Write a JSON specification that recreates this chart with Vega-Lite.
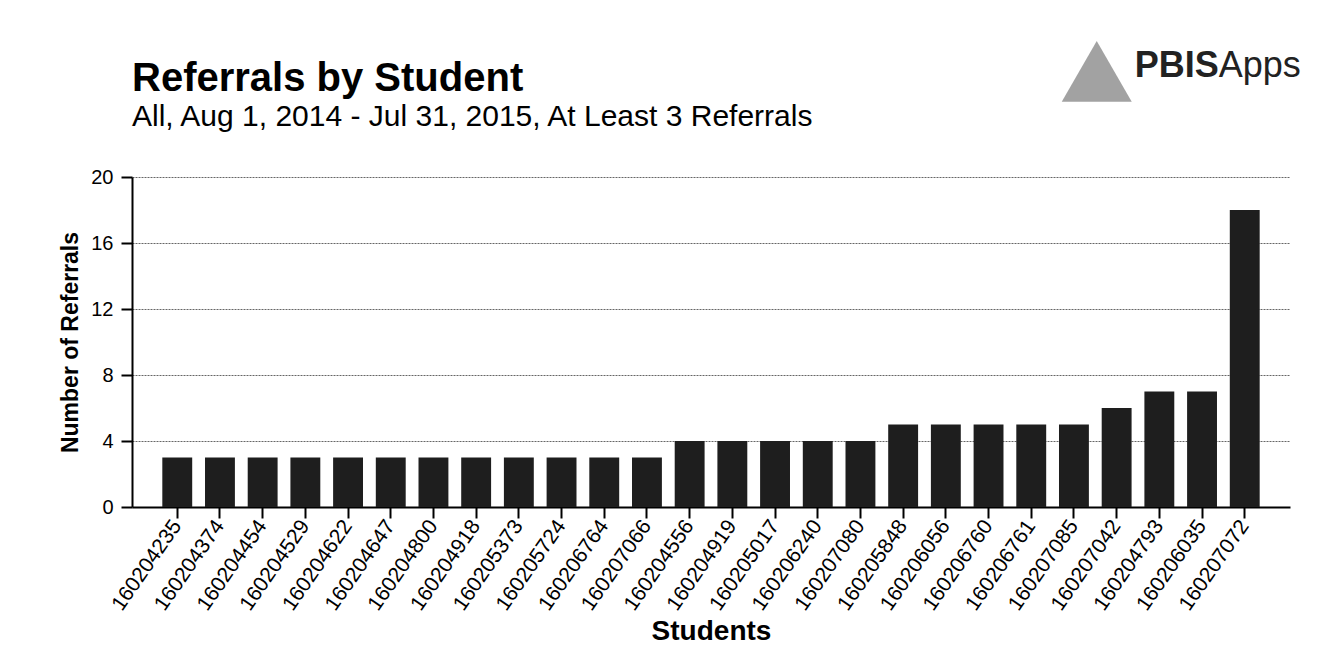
{
  "$schema": "https://vega.github.io/schema/vega-lite/v6.json",
  "autosize": "none",
  "width": 1158,
  "height": 330,
  "padding": {"left": 132, "top": 177, "right": 38, "bottom": 149},
  "background": "white",
  "config": {
    "font": "Liberation Sans",
    "view": {"stroke": null}
  },
  "title": {
    "text": "Referrals by Student",
    "subtitle": "All, Aug 1, 2014 - Jul 31, 2015, At Least 3 Referrals",
    "anchor": "start",
    "frame": "group",
    "font": "Liberation Sans",
    "fontSize": 40,
    "fontWeight": "bold",
    "color": "black",
    "subtitleFont": "Liberation Sans",
    "subtitleFontSize": 30,
    "subtitleColor": "black",
    "subtitlePadding": 3,
    "offset": -91
  },
  "datasets": {
    "students": [
      {"student": "160204235", "referrals": 3},
      {"student": "160204374", "referrals": 3},
      {"student": "160204454", "referrals": 3},
      {"student": "160204529", "referrals": 3},
      {"student": "160204622", "referrals": 3},
      {"student": "160204647", "referrals": 3},
      {"student": "160204800", "referrals": 3},
      {"student": "160204918", "referrals": 3},
      {"student": "160205373", "referrals": 3},
      {"student": "160205724", "referrals": 3},
      {"student": "160206764", "referrals": 3},
      {"student": "160207066", "referrals": 3},
      {"student": "160204556", "referrals": 4},
      {"student": "160204919", "referrals": 4},
      {"student": "160205017", "referrals": 4},
      {"student": "160206240", "referrals": 4},
      {"student": "160207080", "referrals": 4},
      {"student": "160205848", "referrals": 5},
      {"student": "160206056", "referrals": 5},
      {"student": "160206760", "referrals": 5},
      {"student": "160206761", "referrals": 5},
      {"student": "160207085", "referrals": 5},
      {"student": "160207042", "referrals": 6},
      {"student": "160204793", "referrals": 7},
      {"student": "160206035", "referrals": 7},
      {"student": "160207072", "referrals": 18}
    ],
    "logo": [{"brand": "PBIS", "suffix": "Apps"}]
  },
  "layer": [
    {
      "data": {"name": "students"},
      "mark": {"type": "bar", "color": "#1e1e1e"},
      "encoding": {
        "x": {
          "field": "student",
          "type": "nominal",
          "sort": null,
          "scale": {"paddingInner": 0.3, "paddingOuter": 0.71},
          "axis": {
            "title": "Students",
            "titleFontSize": 28,
            "titleFontWeight": "bold",
            "titleColor": "black",
            "titlePadding": 4,
            "labelAngle": -55,
            "labelFontSize": 21,
            "labelColor": "black",
            "labelPadding": 4,
            "tickSize": 11,
            "tickWidth": 2,
            "tickColor": "black",
            "domainColor": "black",
            "domainWidth": 2
          }
        },
        "y": {
          "field": "referrals",
          "type": "quantitative",
          "scale": {"domain": [0, 20]},
          "axis": {
            "title": "Number of Referrals",
            "titleFontSize": 23,
            "titleFontWeight": "bold",
            "titleColor": "black",
            "titlePadding": 8,
            "values": [0, 2, 4, 6, 8, 10, 12, 14, 16, 18, 20],
            "labelExpr": "datum.value % 4 == 0 ? datum.label : ''",
            "labelFontSize": 20,
            "labelColor": "black",
            "labelPadding": 8,
            "tickColor": "black",
            "tickWidth": 2,
            "tickSize": {"condition": {"test": "datum.value % 4 == 0", "value": 11}, "value": 8},
            "domainColor": "black",
            "domainWidth": 2,
            "grid": true,
            "gridColor": "#666666",
            "gridDash": [2, 1],
            "gridWidth": 1,
            "gridOpacity": {"condition": {"test": "datum.value % 4 == 0 && datum.value > 0", "value": 1}, "value": 0}
          }
        }
      }
    },
    {
      "data": {"name": "logo"},
      "mark": {"type": "point", "shape": "triangle-up", "filled": true, "color": "#7a7a7a", "size": 4900, "xOffset": -148},
      "encoding": {
        "x": {"datum": "160207072", "type": "nominal"},
        "y": {"datum": 26.4, "type": "quantitative"}
      }
    },
    {
      "data": {"name": "logo"},
      "mark": {"type": "text", "align": "right", "baseline": "middle", "fontSize": 36, "fontWeight": "bold", "color": "#222222", "dx": -26},
      "encoding": {
        "x": {"datum": "160207072", "type": "nominal"},
        "y": {"datum": 26.7, "type": "quantitative"},
        "text": {"field": "brand"}
      }
    },
    {
      "data": {"name": "logo"},
      "mark": {"type": "text", "align": "left", "baseline": "middle", "fontSize": 36, "color": "#222222", "dx": -26},
      "encoding": {
        "x": {"datum": "160207072", "type": "nominal"},
        "y": {"datum": 26.7, "type": "quantitative"},
        "text": {"field": "suffix"}
      }
    }
  ]
}
